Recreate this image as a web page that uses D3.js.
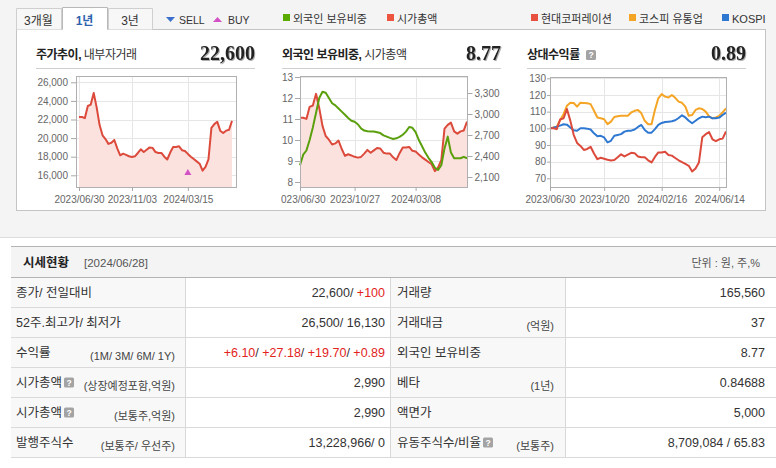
<!DOCTYPE html>
<html><head><meta charset="utf-8">
<script src="https://cdn.jsdelivr.net/npm/d3@7"></script>
<style>
body{margin:0;background:#fff}
svg{display:block;font-family:"Liberation Sans","Noto Sans CJK KR",sans-serif}
</style>
</head><body>
<svg id="c" width="776" height="468"></svg>
<script>
// ---------------- DATA ----------------
const startDate = "2023-06-30";   // weekly (Friday) observations
const weekCount = 53;
const price = [22270,22270,22150,23450,23600,24850,23300,21400,20300,19900,19380,19500,19800,18900,18150,18330,18200,18050,17970,18040,18400,18800,18500,18750,19000,18950,18500,18400,18400,18000,17700,18450,19050,19050,19120,18700,18620,18300,18000,17750,17500,17250,16500,16900,17700,21100,21500,21750,20800,20550,20800,20900,21850];
const foreignPct = [8.8,9.3,9.5,10.0,10.6,11.3,12.0,12.3,12.25,12.0,11.75,11.65,11.5,11.35,11.2,11.05,10.92,10.87,10.75,10.55,10.45,10.42,10.4,10.4,10.37,10.33,10.22,10.16,10.1,10.05,10.08,10.15,10.25,10.4,10.62,10.58,10.38,10.0,9.7,9.4,9.15,8.95,8.68,8.57,8.8,9.6,10.16,9.4,9.13,9.13,9.13,9.2,9.13];
const marketCap = [2946,2946,2930,3102,3122,3288,3083,2831,2686,2633,2564,2580,2620,2500,2401,2425,2408,2388,2377,2387,2434,2487,2447,2481,2514,2507,2447,2434,2434,2381,2342,2441,2520,2520,2530,2474,2463,2421,2381,2348,2315,2282,2183,2236,2342,2791,2844,2877,2752,2719,2752,2765,2891];
const relCompany = [100,100,99.5,105.3,106,111.6,104.6,96.1,91.2,89.4,87,87.6,88.9,84.9,81.5,82.3,81.7,81.1,80.7,81,82.6,84.4,83.1,84.2,85.3,85.1,83.1,82.6,82.6,80.8,79.5,82.8,85.5,85.5,85.9,84,83.6,82.2,80.8,79.7,78.6,77.5,74.1,75.9,79.5,94.7,96.5,97.7,93.4,92.3,93.4,93.8,98.1];
const relSector = [100,100.5,101,105,108.5,113.5,115.3,115.2,113,115.4,115.2,115,114.5,110.5,106.5,106,105.4,102.5,104,106.8,107.2,107.5,107.5,107.5,109.5,110.5,111,109,104.5,102.4,102.4,111,118,120.5,119,118.5,120,118.3,116,115.3,113,107.5,108,111,112,111.6,110,107.2,106,106.5,107.5,109.5,112];
const relKospi = [100,100.3,101,101.6,102.4,102.2,100.5,98.8,98.5,100,100,99.8,99.3,97,95.2,95.5,94.5,91.5,92.5,95.5,96,96.5,98,98.5,98.6,99.3,100.8,102,99,97.3,97.4,99.5,102,103.2,103.8,104,104.2,104.8,106.2,107.8,106.5,104.5,103,104.5,106,107,106.6,107,106,106,106.4,108,109.4];
const buyDates = ["2024/03/15"];
const buyValues = [16350];

const priceTicks = [16000,18000,20000,22000,24000,26000];
const pctTicks = [8,9,10,11,12,13];
const capTicks = [2100,2400,2700,3000,3300];
const relTicks = [70,80,90,100,110,120,130];
const dateTicks1 = ["2023/06/30","2023/11/03","2024/03/15"];
const dateTicks2 = ["2023/06/30","2023/10/27","2024/03/08"];
const dateTicks3 = ["2023/06/30","2023/10/20","2024/02/16","2024/06/14"];

const tabs = ["3개월","1년","3년"];
const legend2 = ["외국인 보유비중","시가총액"];
const legend3 = ["현대코퍼레이션","코스피 유통업","KOSPI"];
const chartTitles = [["주가추이,"," 내부자거래"],["외국인 보유비중,"," 시가총액"],["상대수익률",""]];
const chartValues = ["22,600","8.77","0.89"];

const leftLabels = ["종가/ 전일대비","52주.최고가/ 최저가","수익률","시가총액","시가총액","발행주식수"];
const leftSubs = ["","","(1M/ 3M/ 6M/ 1Y)","(상장예정포함,억원)","(보통주,억원)","(보통주/ 우선주)"];
const leftHelp = [0,0,0,1,1,0];
const leftValues = [
  [["22,600/ ","k"],["+100","r"]],
  [["26,500/ 16,130","k"]],
  [["+6.10","r"],["/ ","k"],["+27.18","r"],["/ ","k"],["+19.70","r"],["/ ","k"],["+0.89","r"]],
  [["2,990","k"]],
  [["2,990","k"]],
  [["13,228,966/ 0","k"]]
];
const rightLabels = ["거래량","거래대금","외국인 보유비중","베타","액면가","유동주식수/비율"];
const rightSubs = ["","(억원)","","(1년)","","(보통주)"];
const rightHelp = [0,0,0,0,0,1];
const rightValues = [[["165,560","k"]],[["37","k"]],[["8.77","k"]],[["0.84688","k"]],[["5,000","k"]],[["8,709,084 / 65.83","k"]]];

// ---------------- DRAW ----------------
const svg = d3.select("#c");
const parseD = d3.timeParse("%Y-%m-%d");
const parseT = d3.timeParse("%Y/%m/%d");
const fmtT = d3.timeFormat("%Y/%m/%d");
const dates = d3.range(weekCount).map(i => d3.timeDay.offset(parseD(startDate), 7*i));

const defs = svg.append("defs");
const sh = defs.append("filter").attr("id","sh").attr("x","-10%").attr("y","-20%").attr("width","130%").attr("height","150%");
sh.append("feDropShadow").attr("dx",1).attr("dy",1).attr("stdDeviation",0.6).attr("flood-color","#777").attr("flood-opacity",0.6);
defs.append("clipPath").attr("id","clip2").append("rect").attr("x",281).attr("y",60).attr("width",240).attr("height",150);

const RED = "#dc4a3c", FILL = "#fce2df", GREEN = "#5a9f0c", ORANGE = "#f5a526", BLUE = "#2f78d2";

// backgrounds
svg.append("rect").attr("x",0).attr("y",0).attr("width",776).attr("height",237).attr("fill","#f4f4f4");
svg.append("line").attr("x1",0).attr("x2",776).attr("y1",237.5).attr("y2",237.5).attr("stroke","#dcdcdc");
svg.append("rect").attr("x",16.5).attr("y",29.5).attr("width",749).attr("height",181).attr("fill","#fff").attr("stroke","#c4c4c4");

// tabs
const tabX = [16,62,108], tabW = [45,45,44];
tabs.forEach((t,i)=>{
  const active = i===1;
  const g = svg.append("g");
  const x0 = tabX[i]+0.5, x1 = tabX[i]+tabW[i]+0.5, y0 = active?7.5:8.5, y1 = 29.5;
  g.append("rect").attr("x",x0).attr("y",y0).attr("width",x1-x0).attr("height",y1-y0+(active?1:0)).attr("fill",active?"#fff":"#f7f7f7");
  g.append("path").attr("d",`M${x0},${y1}V${y0}H${x1}V${y1}`).attr("fill","none").attr("stroke",active?"#b8b8b8":"#cfcfcf");
  g.append("text").attr("x",(tabX[i]+tabX[i]+tabW[i])/2).attr("y",25).attr("text-anchor","middle")
    .attr("font-size",12).attr("font-weight",active?"bold":"normal").attr("fill",active?"#2d63ad":"#333").text(t);
});
svg.append("line").attr("x1",63).attr("x2",107).attr("y1",29.5).attr("y2",29.5).attr("stroke","#fff");

// SELL / BUY legend
svg.append("path").attr("d","M166,17 L175,17 L170.5,22 Z").attr("fill","#3b6fce");
svg.append("text").attr("x",179).attr("y",23.5).attr("font-size",10.5).attr("fill","#333").text("SELL");
svg.append("path").attr("d","M213,22 L222,22 L217.5,17 Z").attr("fill","#d252c6");
svg.append("text").attr("x",228).attr("y",23.5).attr("font-size",10.5).attr("fill","#333").text("BUY");

// legend 2 & 3
const legItems = [
  {x:283,c:"#5aaa00",t:legend2[0]},{x:387,c:"#ee5540",t:legend2[1]},
  {x:531,c:"#e8503f",t:legend3[0]},{x:629,c:"#f5a526",t:legend3[1]},{x:722,c:BLUE,t:legend3[2]}
];
legItems.forEach(d=>{
  svg.append("rect").attr("x",d.x).attr("y",14).attr("width",7).attr("height",7).attr("fill",d.c);
  svg.append("text").attr("x",d.x+10).attr("y",22.5).attr("font-size",11).attr("fill","#333").text(d.t);
});

// chart headers
const headers = [{x0:36,x1:255},{x0:282,x1:501},{x0:527,x1:746}];
headers.forEach((h,i)=>{
  const t = svg.append("text").attr("x",h.x0).attr("y",59).attr("font-size",12).attr("letter-spacing",-0.5).attr("fill","#222");
  t.append("tspan").attr("font-weight","bold").text(chartTitles[i][0]);
  if (chartTitles[i][1]) t.append("tspan").attr("fill","#333").text(chartTitles[i][1]);
  svg.append("text").attr("x",h.x1).attr("y",60).attr("text-anchor","end").attr("font-size",20).attr("font-weight","bold")
    .style("font-family","'Liberation Serif','DejaVu Serif',serif").attr("fill","#222").attr("filter","url(#sh)").text(chartValues[i]);
  svg.append("line").attr("x1",h.x0).attr("x2",h.x1).attr("y1",68.5).attr("y2",68.5).attr("stroke","#cfcfcf");
});
function helpIcon(x,y){
  svg.append("rect").attr("x",x).attr("y",y).attr("width",10).attr("height",10).attr("rx",1.5).attr("fill","#a3a3a3");
  svg.append("text").attr("x",x+5).attr("y",y+8.3).attr("text-anchor","middle").attr("font-size",8.5).attr("font-weight","bold").attr("fill","#fff").text("?");
}
helpIcon(586,50);

function styleAxis(g){
  g.select(".domain").remove();
  g.attr("font-family",null).attr("font-size",null);
  g.selectAll(".tick line").attr("stroke","#a8a8a8");
  g.selectAll(".tick text").attr("fill","#666").attr("font-size",10);
}
function drawFrame(g,f,x,yTicksY,xTicksDates){
  g.append("rect").attr("x",f.x0).attr("y",f.y0).attr("width",f.x1-f.x0).attr("height",f.y1-f.y0).attr("fill","#fff");
  yTicksY.forEach(v=>g.append("line").attr("x1",f.x0).attr("x2",f.x1).attr("y1",Math.round(v)+0.5).attr("y2",Math.round(v)+0.5).attr("stroke","#e6e6e6"));
  xTicksDates.forEach(d=>g.append("line").attr("x1",Math.round(x(d))+0.5).attr("x2",Math.round(x(d))+0.5).attr("y1",f.y0).attr("y2",f.y1).attr("stroke","#e6e6e6"));
}
function frameBorder(g,f){
  g.append("rect").attr("x",f.x0+0.5).attr("y",f.y0+0.5).attr("width",f.x1-f.x0).attr("height",f.y1-f.y0).attr("fill","none").attr("stroke","#b0b0b0");
}

// ---------- Chart 1 ----------
{
  const f = {x0:76,x1:236,y0:76,y1:187};
  const g = svg.append("g");
  const x = d3.scaleTime().domain([dates[0],dates[weekCount-1]]).range([79,232]);
  const y = d3.scaleLinear().domain([16000,26000]).range([175.3,82.3]);
  const xt = dateTicks1.map(parseT);
  drawFrame(g,f,x,priceTicks.map(y),xt);
  const pts = dates.map((d,i)=>({d,v:price[i]}));
  g.append("path").datum(pts).attr("fill",FILL)
    .attr("d",d3.area().x(p=>x(p.d)).y0(f.y1).y1(p=>y(p.v)));
  g.append("path").datum(pts).attr("fill","none").attr("stroke",RED).attr("stroke-width",2).attr("stroke-linejoin","round")
    .attr("d",d3.line().x(p=>x(p.d)).y(p=>y(p.v)));
  buyDates.forEach((d,i)=>{
    const cx = x(parseT(d)), cy = y(buyValues[i]);
    g.append("path").attr("d",`M${cx-3.5},${cy+3} L${cx+3.5},${cy+3} L${cx},${cy-3} Z`).attr("fill","#d252c6");
  });
  frameBorder(g,f);
  const ya = g.append("g").attr("transform",`translate(${f.x0},0)`).call(d3.axisLeft(y).tickValues(priceTicks).tickFormat(d3.format(",")).tickSize(5).tickPadding(3));
  styleAxis(ya);
  const xa = g.append("g").attr("transform",`translate(0,${f.y1})`).call(d3.axisBottom(x).tickValues(xt).tickFormat(fmtT).tickSize(4).tickPadding(5));
  styleAxis(xa);
}

// ---------- Chart 2 ----------
{
  const f = {x0:300,x1:467,y0:76,y1:187};
  const g = svg.append("g").attr("clip-path","url(#clip2)");
  const x = d3.scaleTime().domain([dates[0],dates[weekCount-1]]).range([300,467]);
  const yL = d3.scaleLinear().domain([8,13]).range([182,77]);
  const yR = d3.scaleLinear().domain([2100,3300]).range([177,93]);
  const xt = dateTicks2.map(parseT);
  drawFrame(g,f,x,pctTicks.map(yL),xt);
  const cap = dates.map((d,i)=>({d,v:marketCap[i]}));
  const fp = dates.map((d,i)=>({d,v:foreignPct[i]}));
  g.append("path").datum(cap).attr("fill",FILL).attr("d",d3.area().x(p=>x(p.d)).y0(f.y1).y1(p=>yR(p.v)));
  g.append("path").datum(cap).attr("fill","none").attr("stroke",RED).attr("stroke-width",2).attr("stroke-linejoin","round")
    .attr("d",d3.line().x(p=>x(p.d)).y(p=>yR(p.v)));
  g.append("path").datum(fp).attr("fill","none").attr("stroke",GREEN).attr("stroke-width",2).attr("stroke-linejoin","round")
    .attr("d",d3.line().x(p=>x(p.d)).y(p=>yL(p.v)));
  frameBorder(g,f);
  const ya = g.append("g").attr("transform",`translate(${f.x0},0)`).call(d3.axisLeft(yL).tickValues(pctTicks).tickFormat(d3.format("d")).tickSize(5).tickPadding(2));
  styleAxis(ya);
  const yb = g.append("g").attr("transform",`translate(${f.x1+0.5},0)`).call(d3.axisRight(yR).tickValues(capTicks).tickFormat(d3.format(",")).tickSize(5).tickPadding(2));
  styleAxis(yb);
  const xa = g.append("g").attr("transform",`translate(0,${f.y1})`).call(d3.axisBottom(x).tickValues(xt).tickFormat(fmtT).tickSize(4).tickPadding(5));
  styleAxis(xa);
}

// ---------- Chart 3 ----------
{
  const f = {x0:550,x1:726,y0:77,y1:187};
  const g = svg.append("g");
  const x = d3.scaleTime().domain([dates[0],dates[weekCount-1]]).range([550,726]);
  const y = d3.scaleLinear().domain([70,130]).range([178.3,78.3]);
  const xt = dateTicks3.map(parseT);
  drawFrame(g,f,x,relTicks.map(y),xt);
  [[relSector,ORANGE],[relKospi,BLUE],[relCompany,RED]].forEach(([arr,col])=>{
    const pts = dates.map((d,i)=>({d,v:arr[i]}));
    g.append("path").datum(pts).attr("fill","none").attr("stroke",col).attr("stroke-width",2).attr("stroke-linejoin","round")
      .attr("d",d3.line().x(p=>x(p.d)).y(p=>y(p.v)));
  });
  frameBorder(g,f);
  const ya = g.append("g").attr("transform",`translate(${f.x0},0)`).call(d3.axisLeft(y).tickValues(relTicks).tickSize(3).tickPadding(1));
  styleAxis(ya);
  const xa = g.append("g").attr("transform",`translate(0,${f.y1})`).call(d3.axisBottom(x).tickValues(xt).tickFormat(fmtT).tickSize(4).tickPadding(5));
  styleAxis(xa);
}

// ---------- Table ----------
{
  const T = svg.append("g");
  T.append("rect").attr("x",11).attr("y",246).attr("width",765).attr("height",31).attr("fill","#f4f4f4");
  T.append("line").attr("x1",11).attr("x2",776).attr("y1",246.5).attr("y2",246.5).attr("stroke","#b4b4b4");
  T.append("line").attr("x1",11).attr("x2",776).attr("y1",277.5).attr("y2",277.5).attr("stroke","#b4b4b4");
  T.append("text").attr("x",23).attr("y",267).attr("font-size",12.5).attr("font-weight","bold").attr("fill","#222").text("시세현황");
  T.append("text").attr("x",84).attr("y",267).attr("font-size",11.5).attr("fill","#555").text("[2024/06/28]");
  T.append("text").attr("x",760).attr("y",267).attr("text-anchor","end").attr("font-size",11).attr("fill","#555").text("단위 : 원, 주,%");

  const rowTop = 278, rowH = 30, n = leftLabels.length;
  T.append("rect").attr("x",11).attr("y",rowTop).attr("width",174).attr("height",rowH*n-1).attr("fill","#f8f8f8");
  T.append("rect").attr("x",391).attr("y",rowTop).attr("width",174).attr("height",rowH*n-1).attr("fill","#f8f8f8");
  for (let r=1;r<=n;r++){
    T.append("line").attr("x1",11).attr("x2",776).attr("y1",rowTop+rowH*r-0.5).attr("y2",rowTop+rowH*r-0.5).attr("stroke","#dadada");
  }
  [185.5,390.5,565.5].forEach(xv=>T.append("line").attr("x1",xv).attr("x2",xv).attr("y1",rowTop).attr("y2",rowTop+rowH*n-1).attr("stroke","#d8d8d8"));

  function side(labels,subs,helps,vals,lx,subx,valx){
    labels.forEach((lab,i)=>{
      const cy = rowTop + rowH*i + 14.5;
      const t = T.append("text").attr("x",lx).attr("y",cy+4.5).attr("font-size",12.5).attr("fill","#333").text(lab);
      if (helps[i]) {
        const w = t.node().getComputedTextLength();
        const hx = lx + w + 2, hy = cy - 5;
        T.append("rect").attr("x",hx).attr("y",hy).attr("width",10).attr("height",10).attr("rx",1.5).attr("fill","#a3a3a3");
        T.append("text").attr("x",hx+5).attr("y",hy+8.3).attr("text-anchor","middle").attr("font-size",8.5).attr("font-weight","bold").attr("fill","#fff").text("?");
      }
      if (subs[i]) T.append("text").attr("x",subx).attr("y",cy+7).attr("text-anchor","end").attr("font-size",11).attr("fill","#444").text(subs[i]);
      const vt = T.append("text").attr("x",valx).attr("y",cy+4.5).attr("text-anchor","end").attr("font-size",12.5);
      vals[i].forEach(([s,c])=>vt.append("tspan").attr("fill",c==="r"?"#e3241c":"#333").text(s));
    });
  }
  side(leftLabels,leftSubs,leftHelp,leftValues,16,175,385);
  side(rightLabels,rightSubs,rightHelp,rightValues,397,554,765);
}
</script>
</body></html>
